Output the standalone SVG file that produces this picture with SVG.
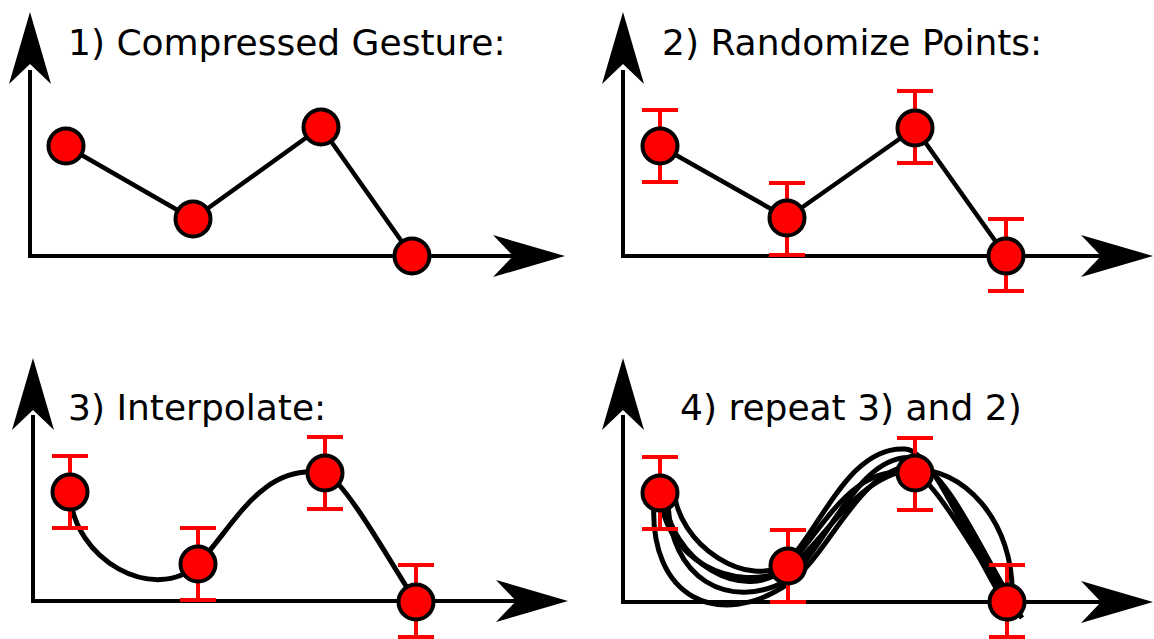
<svg xmlns="http://www.w3.org/2000/svg" xmlns:xlink="http://www.w3.org/1999/xlink" width="1154" height="639" viewBox="0 0 1154 639">
<style>
.ttl{font-family:"DejaVu Sans","Liberation Sans",sans-serif;font-size:36px;fill:#000}
.axis{fill:none;stroke:#000;stroke-width:4;stroke-linejoin:miter}
.ln{fill:none;stroke:#000;stroke-width:4.5;stroke-linejoin:round}
.cv{fill:none;stroke:#000;stroke-width:5;stroke-linecap:butt}
.pt{fill:#ff0000;stroke:#000;stroke-width:4}
.eb{fill:none;stroke:#ff0000;stroke-width:4}
</style>
<defs>
<path id="ah" d="M0,0 L-72,-21 L-52,0 L-72,21 Z" fill="#000"/>
<path id="bar" class="eb" d="M0,-36 V36 M-18,-36 H18 M-18,36 H18"/>
</defs>
<rect width="1154" height="639" fill="#fff"/>

<!-- Panel 1 -->
<g id="panel1">
<text class="ttl" x="68" y="55">1) Compressed Gesture:</text>
<g id="axes1">
<path class="axis" d="M30,70 V256 H520"/>
<use xlink:href="#ah" transform="translate(30,12) rotate(-90)"/>
<use xlink:href="#ah" transform="translate(565,256)"/>
</g>
<g id="connectors1">
<polyline class="ln" points="66,146 193,219 321,127 412,256"/>
</g>
<g id="p1n1"><circle class="pt" cx="66" cy="146" r="17.5"/></g>
<g id="p1n2"><circle class="pt" cx="193" cy="219" r="17.5"/></g>
<g id="p1n3"><circle class="pt" cx="321" cy="127" r="17.5"/></g>
<g id="p1n4"><circle class="pt" cx="412" cy="256" r="17.5"/></g>
</g>

<!-- Panel 2 -->
<g id="panel2">
<text class="ttl" x="662" y="55">2) Randomize Points:</text>
<g id="axes2">
<path class="axis" d="M623,70 V256 H1110"/>
<use xlink:href="#ah" transform="translate(623,12) rotate(-90)"/>
<use xlink:href="#ah" transform="translate(1153,256)"/>
</g>
<g id="connectors2">
<polyline class="ln" points="660,146 787,218 915,128 1006,256"/>
</g>
<g id="p2n1"><use xlink:href="#bar" transform="translate(660,146)"/><circle class="pt" cx="660" cy="146" r="17.5"/></g>
<g id="p2n2"><use xlink:href="#bar" transform="translate(787,219)"/><circle class="pt" cx="787" cy="218" r="17.5"/></g>
<g id="p2n3"><use xlink:href="#bar" transform="translate(915,127)"/><circle class="pt" cx="915" cy="128" r="17.5"/></g>
<g id="p2n4"><use xlink:href="#bar" transform="translate(1006,255)"/><circle class="pt" cx="1006" cy="256" r="17.5"/></g>
</g>

<!-- Panel 3 -->
<g id="panel3">
<text class="ttl" x="68" y="420">3) Interpolate:</text>
<g id="axes3">
<path class="axis" d="M33,415 V601 H520"/>
<use xlink:href="#ah" transform="translate(33,358) rotate(-90)"/>
<use xlink:href="#ah" transform="translate(568,601)"/>
</g>
<g id="connectors3">
<path class="cv" d="M70,492 C72,560 155,605 198,564 C235,525 262,462 325,473 C345,480 395,570 416,602"/>
</g>
<g id="p3n1"><use xlink:href="#bar" transform="translate(70,492)"/><circle class="pt" cx="70" cy="492" r="17.5"/></g>
<g id="p3n2"><use xlink:href="#bar" transform="translate(198,564)"/><circle class="pt" cx="198" cy="564" r="17.5"/></g>
<g id="p3n3"><use xlink:href="#bar" transform="translate(325,473)"/><circle class="pt" cx="325" cy="473" r="17.5"/></g>
<g id="p3n4"><use xlink:href="#bar" transform="translate(416,601)"/><circle class="pt" cx="416" cy="602" r="17.5"/></g>
</g>

<!-- Panel 4 -->
<g id="panel4">
<text class="ttl" x="680" y="420">4) repeat 3) and 2)</text>
<g id="axes4">
<path class="axis" d="M623,415 V602 H1110"/>
<use xlink:href="#ah" transform="translate(623,358) rotate(-90)"/>
<use xlink:href="#ah" transform="translate(1153,602)"/>
</g>
<g id="connectors4">
<path class="cv" d="M664,493 C668,561 745,607 788,566 C825,527 852,462 915,473 C935,480 986,570 1007,602"/>
<path class="cv" d="M668,498 C668,580 730,612 788,580 C828,545 860,450 915,458 C940,465 985,560 1007,600"/>
<path class="cv" d="M654,500 C648,600 720,630 788,584 C830,555 858,468 915,465 C945,462 990,570 1022,618"/>
<path class="cv" d="M660,490 C662,560 735,595 788,569 C820,548 855,475 912,470 C960,465 1016,520 1012,600"/>
<path class="cv" d="M674,488 C676,545 750,592 788,562 C822,525 850,446 905,449 C935,450 975,560 1005,602"/>
</g>
<g id="p4n1"><use xlink:href="#bar" transform="translate(660,493)"/><circle class="pt" cx="660" cy="493" r="17.5"/></g>
<g id="p4n2"><use xlink:href="#bar" transform="translate(788,566)"/><circle class="pt" cx="788" cy="566" r="17.5"/></g>
<g id="p4n3"><use xlink:href="#bar" transform="translate(915,474)"/><circle class="pt" cx="915" cy="473" r="17.5"/></g>
<g id="p4n4"><use xlink:href="#bar" transform="translate(1007,601)"/><circle class="pt" cx="1007" cy="602" r="17.5"/></g>
</g>
</svg>
